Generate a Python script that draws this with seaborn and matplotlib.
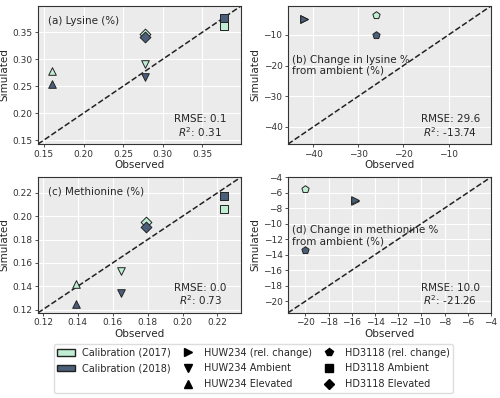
import matplotlib
matplotlib.use('Agg')

import pandas as pd
import matplotlib.pyplot as plt
import seaborn as sns
from matplotlib.patches import Patch
from matplotlib.lines import Line2D

# colours for the two calibration years
c2017 = '#c0eed2'
c2018 = '#4c5f7a'

# marker per treatment
markers = {
    'HUW234 (rel. change)': '>',
    'HUW234 Ambient': 'v',
    'HUW234 Elevated': '^',
    'HD3118 (rel. change)': 'p',
    'HD3118 Ambient': 's',
    'HD3118 Elevated': 'D',
}

# (a) Lysine (%)
lys_group = ['HUW234 Elevated', 'HUW234 Ambient', 'HD3118 Elevated', 'HD3118 Ambient']
lys_obs = [0.160, 0.278, 0.278, 0.377]
lys_sim_2017 = [0.278, 0.292, 0.347, 0.362]
lys_sim_2018 = [0.254, 0.267, 0.342, 0.376]

# (b) Change in lysine % from ambient
dlys_group = ['HUW234 (rel. change)', 'HD3118 (rel. change)']
dlys_obs = [-42.0, -26.2]
dlys_sim_2017 = [-4.8, -3.5]
dlys_sim_2018 = [-4.8, -10.0]

# (c) Methionine (%)
met_group = ['HUW234 Elevated', 'HUW234 Ambient', 'HD3118 Elevated', 'HD3118 Ambient']
met_obs = [0.139, 0.165, 0.179, 0.224]
met_sim_2017 = [0.142, 0.153, 0.195, 0.206]
met_sim_2018 = [0.125, 0.134, 0.191, 0.217]

# (d) Change in methionine % from ambient
dmet_group = ['HUW234 (rel. change)', 'HD3118 (rel. change)']
dmet_obs = [-15.7, -20.0]
dmet_sim_2017 = [-7.1, -5.5]
dmet_sim_2018 = [-6.9, -13.4]

panels = [
    ('(a) Lysine (%)', lys_group, lys_obs, lys_sim_2017, lys_sim_2018,
     (0.1425, 0.399), 'RMSE: 0.1\n$R^2$: 0.31', [0.15, 0.20, 0.25, 0.30, 0.35], '%.2f'),
    ('(b) Change in lysine %\nfrom ambient (%)', dlys_group, dlys_obs, dlys_sim_2017, dlys_sim_2018,
     (-45.6, -0.6), 'RMSE: 29.6\n$R^2$: -13.74', [-40, -30, -20, -10], '%d'),
    ('(c) Methionine (%)', met_group, met_obs, met_sim_2017, met_sim_2018,
     (0.1172, 0.2335), 'RMSE: 0.0\n$R^2$: 0.73', [0.12, 0.14, 0.16, 0.18, 0.20, 0.22], '%.2f'),
    ('(d) Change in methionine %\nfrom ambient (%)', dmet_group, dmet_obs, dmet_sim_2017, dmet_sim_2018,
     (-21.5, -4.0), 'RMSE: 10.0\n$R^2$: -21.26', list(range(-20, -3, 2)), '%d'),
]

sns.set_style('darkgrid', {'axes.facecolor': '#ebebeb', 'grid.color': 'white',
                           'axes.edgecolor': '#333333', 'xtick.bottom': True, 'ytick.left': True})
plt.rcParams['font.family'] = ['DejaVu Sans']

fig = plt.figure(figsize=(5, 3.98), dpi=100)
boxes = [
    [0.076, 0.638, 0.406, 0.347],
    [0.576, 0.638, 0.406, 0.347],
    [0.076, 0.214, 0.406, 0.341],
    [0.576, 0.214, 0.406, 0.341],
]

for box, (title, group, obs, s17, s18, lim, stats, ticks, fmt) in zip(boxes, panels):
    ax = fig.add_axes(box)
    df = pd.DataFrame({'group': group * 2, 'obs': obs * 2, 'sim': s17 + s18,
                       'year': ['2017'] * len(group) + ['2018'] * len(group)})
    for year, col in [('2017', c2017), ('2018', c2018)]:
        for g in group:
            sub = df[(df['year'] == year) & (df['group'] == g)]
            sns.scatterplot(data=sub, x='obs', y='sim', marker=markers[g], color=col,
                            edgecolor='#222222', linewidth=0.7, s=30, ax=ax, zorder=3)
    ax.plot(lim, lim, '--', color='#222222', lw=1.1, zorder=2)
    ax.set_xlim(lim)
    ax.set_ylim(lim)
    ax.set_xticks(ticks)
    ax.set_yticks(ticks)
    labels = [('%d' % t).replace('-', '\u2212') if fmt == '%d' else '%.2f' % t for t in ticks]
    ax.set_xticklabels(labels)
    ax.set_yticklabels(labels)
    ax.tick_params(labelsize=6.5, length=2.5, width=0.6, pad=1.5, colors='#333333')
    ax.set_xlabel('Observed', fontsize=7.5, labelpad=1)
    ax.set_ylabel('Simulated', fontsize=7.5, labelpad=2)
    for sp in ax.spines.values():
        sp.set_linewidth(0.8)
    if '\n' in title:
        ax.text(0.02, 0.645, title, transform=ax.transAxes, fontsize=7.5, va='top', linespacing=1.1)
    else:
        ax.text(0.05, 0.93, title, transform=ax.transAxes, fontsize=7.5, va='top')
    ax.text(0.80, 0.04, stats, transform=ax.transAxes, fontsize=7.5, ha='center',
            va='bottom', linespacing=1.05)

handles = [
    Patch(facecolor=c2017, edgecolor='#222222', label='Calibration (2017)'),
    Patch(facecolor=c2018, edgecolor='#222222', label='Calibration (2018)'),
    Line2D([], [], ls='', marker='', label=' '),
]
for name, m in markers.items():
    handles.append(Line2D([], [], ls='', marker=m, color='black', markersize=5.5, label=name))

fig.legend(handles=handles, ncol=3, loc='lower center', bbox_to_anchor=(0.507, 0.0),
           fontsize=7, frameon=True, facecolor='white', framealpha=1, edgecolor='#dddddd',
           handlelength=1.8, handletextpad=0.7, columnspacing=0.9, labelspacing=0.6)

fig.savefig('out.png', dpi=100)
